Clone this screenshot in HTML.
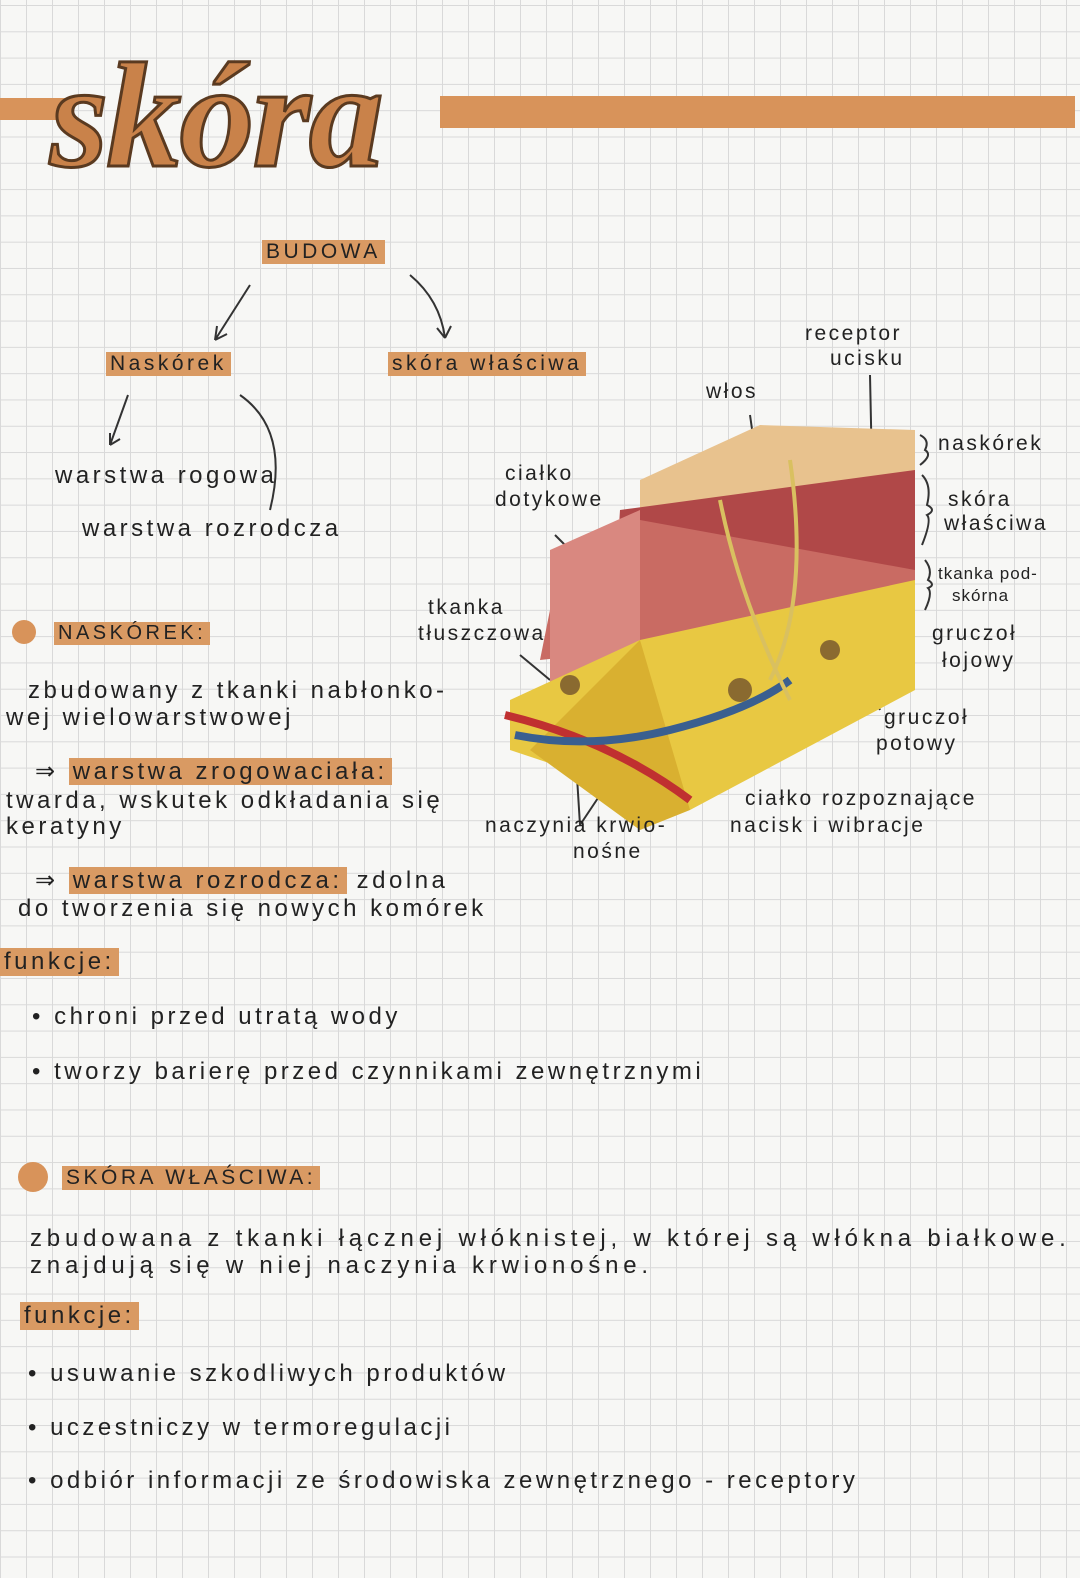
<!DOCTYPE html>
<html><head><meta charset="utf-8"><style>
body{margin:0}
#p{position:relative;width:1080px;height:1578px;overflow:hidden;background-color:#f7f7f5;
background-image:linear-gradient(#d9d9d9 1px,transparent 1px),linear-gradient(90deg,#d9d9d9 1px,transparent 1px);
background-size:26px 26.3px;background-position:0 5px;font-family:"Liberation Sans",sans-serif;color:#222}
.t{position:absolute;font-size:24px;white-space:nowrap;letter-spacing:3.5px}
.h{background:#d99a63;padding:0 4px}
.s{font-size:21px;letter-spacing:2.5px}
</style></head><body><div id="p">
<div style="position:absolute;left:0;top:98px;width:70px;height:22px;background:#d8935a"></div>
<div style="position:absolute;left:440px;top:96px;width:635px;height:32px;background:#d8935a"></div>
<div class="t" style="left:50px;top:30px;font-family:'Liberation Serif',serif;font-style:italic;font-size:150px;color:#c9824a;font-weight:bold;letter-spacing:-2px;-webkit-text-stroke:3px #5a3a20">skóra</div>
<div class="t h" style="left:262px;top:240px;font-size:21px">BUDOWA</div>
<div class="t h" style="left:106px;top:352px;font-size:21px">Naskórek</div>
<div class="t h" style="left:388px;top:352px;font-size:21px">skóra właściwa</div>
<svg style="position:absolute;left:0;top:0" width="1080" height="1578" fill="none" stroke="#333" stroke-width="2">
<path d="M250 285 L215 340 M215 340 l2-14 M215 340 l12-6"/>
<path d="M410 275 Q440 300 445 338 M445 338 l-8-10 M445 338 l6-12"/>
<path d="M128 395 L110 445 M110 445 l0-12 M110 445 l10-6"/>
<path d="M240 395 Q290 430 270 510"/>
<path d="M920 435 q10 5 5 15 q8 5 -5 15 M922 475 q10 10 5 30 q10 5 0 10 q5 5 -5 30 M925 560 q8 10 3 20 q8 5 0 8 q5 5 -3 22"/>
<path d="M555 535 L590 570 M520 655 L550 680 M575 745 L580 825 M610 780 L580 825 M750 415 L755 450 M870 375 L872 470 M870 540 L912 630 M840 620 L880 710 M750 680 L765 760"/>
</svg>
<svg style="position:absolute;left:490px;top:400px" width="430" height="440">
<polygon points="150,80 270,25 425,30 425,100 150,150" fill="#e8c28e"/>
<polygon points="130,110 425,70 425,180 120,270" fill="#b04848"/>
<polygon points="70,160 150,120 425,170 425,220 50,260" fill="#c96b63"/>
<polygon points="60,150 150,110 150,290 60,300" fill="#d98880"/>
<polygon points="20,300 150,240 425,180 425,290 200,410 20,350" fill="#e8c842"/>
<polygon points="150,240 200,410 150,430 40,350" fill="#d9b030"/>
<path d="M15 315 Q120 340 200 400" stroke="#c03030" stroke-width="8" fill="none"/>
<path d="M25 335 Q100 350 180 330 Q260 310 300 280" stroke="#3a5f90" stroke-width="8" fill="none"/>
<path d="M230 100 Q250 200 300 300 M300 60 Q320 200 280 280" stroke="#d9c060" stroke-width="4" fill="none"/>
<circle cx="340" cy="250" r="10" fill="#8a6a30"/><circle cx="80" cy="285" r="10" fill="#8a6a30"/><circle cx="250" cy="290" r="12" fill="#8a6a30"/>
</svg>
<div class="t s" style="left:805px;top:322px">receptor</div>
<div class="t s" style="left:830px;top:347px">ucisku</div>
<div class="t s" style="left:706px;top:380px">włos</div>
<div class="t s" style="left:938px;top:432px">naskórek</div>
<div class="t s" style="left:948px;top:488px">skóra</div>
<div class="t s" style="left:944px;top:512px">właściwa</div>
<div class="t" style="left:938px;top:564px;font-size:17px;letter-spacing:1px">tkanka pod-</div>
<div class="t" style="left:952px;top:586px;font-size:17px;letter-spacing:1px">skórna</div>
<div class="t s" style="left:932px;top:622px">gruczoł</div>
<div class="t s" style="left:942px;top:649px">łojowy</div>
<div class="t s" style="left:884px;top:706px">gruczoł</div>
<div class="t s" style="left:876px;top:732px">potowy</div>
<div class="t s" style="left:745px;top:787px">ciałko rozpoznające</div>
<div class="t s" style="left:730px;top:814px">nacisk i wibracje</div>
<div class="t s" style="left:485px;top:814px">naczynia krwio-</div>
<div class="t s" style="left:573px;top:840px">nośne</div>
<div class="t s" style="left:505px;top:462px">ciałko</div>
<div class="t s" style="left:495px;top:488px">dotykowe</div>
<div class="t s" style="left:428px;top:596px">tkanka</div>
<div class="t s" style="left:418px;top:622px">tłuszczowa</div>
<div class="t" style="left:55px;top:462px">warstwa rogowa</div>
<div class="t" style="left:82px;top:515px">warstwa rozrodcza</div>
<div style="position:absolute;left:12px;top:620px;width:24px;height:24px;border-radius:50%;background:#d8935a"></div>
<div class="t h" style="left:54px;top:622px;font-size:20px">NASKÓREK:</div>
<div class="t" style="left:28px;top:677px">zbudowany z tkanki nabłonko-</div>
<div class="t" style="left:6px;top:704px">wej wielowarstwowej</div>
<div class="t" style="left:35px;top:757px">⇒ <span class="h">warstwa zrogowaciała:</span></div>
<div class="t" style="left:6px;top:787px">twarda, wskutek odkładania się</div>
<div class="t" style="left:6px;top:813px">keratyny</div>
<div class="t" style="left:35px;top:866px">⇒ <span class="h">warstwa rozrodcza:</span> zdolna</div>
<div class="t" style="left:18px;top:895px">do tworzenia się nowych komórek</div>
<div class="t h" style="left:0;top:948px">funkcje:</div>
<div class="t" style="left:32px;top:1003px">• chroni przed utratą wody</div>
<div class="t" style="left:32px;top:1058px">• tworzy barierę przed czynnikami zewnętrznymi</div>
<div style="position:absolute;left:18px;top:1162px;width:30px;height:30px;border-radius:50%;background:#d8935a"></div>
<div class="t h" style="left:62px;top:1166px;font-size:21px">SKÓRA WŁAŚCIWA:</div>
<div class="t" style="left:30px;top:1225px;letter-spacing:4.8px">zbudowana z tkanki łącznej włóknistej, w której są włókna białkowe.</div>
<div class="t" style="left:30px;top:1252px;letter-spacing:4.8px">znajdują się w niej naczynia krwionośne.</div>
<div class="t h" style="left:20px;top:1302px">funkcje:</div>
<div class="t" style="left:28px;top:1360px">• usuwanie szkodliwych produktów</div>
<div class="t" style="left:28px;top:1414px">• uczestniczy w termoregulacji</div>
<div class="t" style="left:28px;top:1467px">• odbiór informacji ze środowiska zewnętrznego - receptory</div>
</div></body></html>
